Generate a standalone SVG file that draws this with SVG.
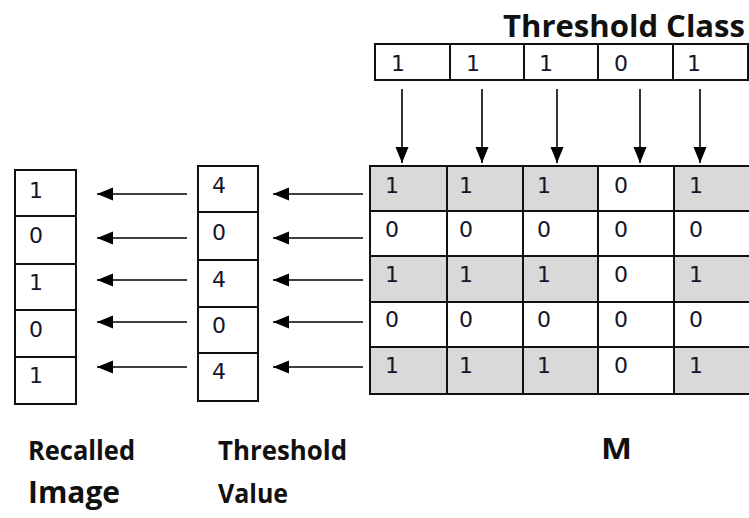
<svg xmlns="http://www.w3.org/2000/svg" width="749" height="518" viewBox="0 0 749 518">
  <defs>
    <marker id="ah" markerUnits="userSpaceOnUse" markerWidth="16" markerHeight="14" viewBox="0 0 16 14" refX="16" refY="7" orient="auto">
      <path d="M0,0.5 L16,7 L0,13.5 Z" fill="#000"/>
    </marker>
    <style>
      .cell { fill: #fff; stroke: #111; stroke-width: 2; }
      .g { fill: #d9d9d9; }
      .num { font-family: "DejaVu Sans", Verdana, sans-serif; font-size: 22px; fill: #14142a; }
      .lbl { font-family: "Open Sans", "Liberation Sans", sans-serif; font-weight: 700; fill: #111; }
      .arr { stroke: #000; stroke-width: 1.6; fill: none; marker-end: url(#ah); }
    </style>
  </defs>
  <rect width="749" height="518" fill="#fff"/>

  <!-- Threshold Class -->
  <g id="threshold-class">
    <text class="lbl" x="503" y="37" font-size="31" textLength="242" lengthAdjust="spacingAndGlyphs">Threshold Class</text>
    <rect class="cell" x="375" y="44" width="75" height="36"/>
    <rect class="cell" x="450" y="44" width="74" height="36"/>
    <rect class="cell" x="524" y="44" width="74" height="36"/>
    <rect class="cell" x="598" y="44" width="75" height="36"/>
    <rect class="cell" x="673" y="44" width="75" height="36"/>
    <text class="num" x="391" y="71">1</text>
    <text class="num" x="466" y="71">1</text>
    <text class="num" x="539" y="71">1</text>
    <text class="num" x="614" y="71">0</text>
    <text class="num" x="687" y="71">1</text>
  </g>

  <!-- Matrix M -->
  <g id="matrix-m">
    <rect class="cell g" x="370" y="166" width="77" height="45"/>
    <rect class="cell g" x="447" y="166" width="76" height="45"/>
    <rect class="cell g" x="523" y="166" width="75" height="45"/>
    <rect class="cell" x="598" y="166" width="76" height="45"/>
    <rect class="cell g" x="674" y="166" width="76" height="45"/>

    <rect class="cell" x="370" y="211" width="77" height="45"/>
    <rect class="cell" x="447" y="211" width="76" height="45"/>
    <rect class="cell" x="523" y="211" width="75" height="45"/>
    <rect class="cell" x="598" y="211" width="76" height="45"/>
    <rect class="cell" x="674" y="211" width="76" height="45"/>

    <rect class="cell g" x="370" y="256" width="77" height="46"/>
    <rect class="cell g" x="447" y="256" width="76" height="46"/>
    <rect class="cell g" x="523" y="256" width="75" height="46"/>
    <rect class="cell" x="598" y="256" width="76" height="46"/>
    <rect class="cell g" x="674" y="256" width="76" height="46"/>

    <rect class="cell" x="370" y="302" width="77" height="45"/>
    <rect class="cell" x="447" y="302" width="76" height="45"/>
    <rect class="cell" x="523" y="302" width="75" height="45"/>
    <rect class="cell" x="598" y="302" width="76" height="45"/>
    <rect class="cell" x="674" y="302" width="76" height="45"/>

    <rect class="cell g" x="370" y="347" width="77" height="47"/>
    <rect class="cell g" x="447" y="347" width="76" height="47"/>
    <rect class="cell g" x="523" y="347" width="75" height="47"/>
    <rect class="cell" x="598" y="347" width="76" height="47"/>
    <rect class="cell g" x="674" y="347" width="76" height="47"/>

    <text class="num" x="385" y="193">1</text>
    <text class="num" x="459" y="193">1</text>
    <text class="num" x="537" y="193">1</text>
    <text class="num" x="614" y="193">0</text>
    <text class="num" x="689" y="193">1</text>

    <text class="num" x="385" y="237">0</text>
    <text class="num" x="459" y="237">0</text>
    <text class="num" x="537" y="237">0</text>
    <text class="num" x="614" y="237">0</text>
    <text class="num" x="689" y="237">0</text>

    <text class="num" x="385" y="282">1</text>
    <text class="num" x="459" y="282">1</text>
    <text class="num" x="537" y="282">1</text>
    <text class="num" x="614" y="282">0</text>
    <text class="num" x="689" y="282">1</text>

    <text class="num" x="385" y="327">0</text>
    <text class="num" x="459" y="327">0</text>
    <text class="num" x="537" y="327">0</text>
    <text class="num" x="614" y="327">0</text>
    <text class="num" x="689" y="327">0</text>

    <text class="num" x="385" y="373">1</text>
    <text class="num" x="459" y="373">1</text>
    <text class="num" x="537" y="373">1</text>
    <text class="num" x="614" y="373">0</text>
    <text class="num" x="689" y="373">1</text>

    <text class="lbl" x="601" y="459" font-size="29" textLength="31" lengthAdjust="spacingAndGlyphs">M</text>
  </g>

  <!-- Threshold Value -->
  <g id="threshold-value">
    <rect class="cell" x="198" y="166" width="60" height="46"/>
    <rect class="cell" x="198" y="212" width="60" height="48"/>
    <rect class="cell" x="198" y="260" width="60" height="47"/>
    <rect class="cell" x="198" y="307" width="60" height="46"/>
    <rect class="cell" x="198" y="353" width="60" height="48"/>
    <text class="num" x="212" y="193">4</text>
    <text class="num" x="212" y="240">0</text>
    <text class="num" x="212" y="287">4</text>
    <text class="num" x="212" y="333">0</text>
    <text class="num" x="212" y="379">4</text>
    <text class="lbl" x="218" y="460" font-size="26" textLength="129" lengthAdjust="spacingAndGlyphs">Threshold</text>
    <text class="lbl" x="218" y="503" font-size="27" textLength="70" lengthAdjust="spacingAndGlyphs">Value</text>
  </g>

  <!-- Recalled Image -->
  <g id="recalled-image">
    <rect class="cell" x="15" y="170" width="61" height="46"/>
    <rect class="cell" x="15" y="216" width="61" height="48"/>
    <rect class="cell" x="15" y="264" width="61" height="46"/>
    <rect class="cell" x="15" y="310" width="61" height="47"/>
    <rect class="cell" x="15" y="357" width="61" height="47"/>
    <text class="num" x="29" y="198">1</text>
    <text class="num" x="29" y="243">0</text>
    <text class="num" x="29" y="290">1</text>
    <text class="num" x="29" y="337">0</text>
    <text class="num" x="29" y="383">1</text>
    <text class="lbl" x="28" y="460" font-size="26" textLength="107" lengthAdjust="spacingAndGlyphs">Recalled</text>
    <text class="lbl" x="28" y="503" font-size="31" textLength="92" lengthAdjust="spacingAndGlyphs">Image</text>
  </g>

  <!-- Connectors -->
  <g id="connectors">
    <line class="arr" x1="402" y1="89" x2="402" y2="163"/>
    <line class="arr" x1="482" y1="89" x2="482" y2="163"/>
    <line class="arr" x1="557" y1="89" x2="557" y2="163"/>
    <line class="arr" x1="640" y1="89" x2="640" y2="163"/>
    <line class="arr" x1="700" y1="89" x2="700" y2="163"/>

    <line class="arr" x1="363" y1="194" x2="273" y2="194"/>
    <line class="arr" x1="363" y1="238" x2="273" y2="238"/>
    <line class="arr" x1="363" y1="280" x2="273" y2="280"/>
    <line class="arr" x1="363" y1="322" x2="273" y2="322"/>
    <line class="arr" x1="363" y1="367" x2="273" y2="367"/>

    <line class="arr" x1="187" y1="194" x2="97" y2="194"/>
    <line class="arr" x1="187" y1="238" x2="97" y2="238"/>
    <line class="arr" x1="187" y1="280" x2="97" y2="280"/>
    <line class="arr" x1="187" y1="322" x2="97" y2="322"/>
    <line class="arr" x1="187" y1="367" x2="97" y2="367"/>
  </g>
</svg>
